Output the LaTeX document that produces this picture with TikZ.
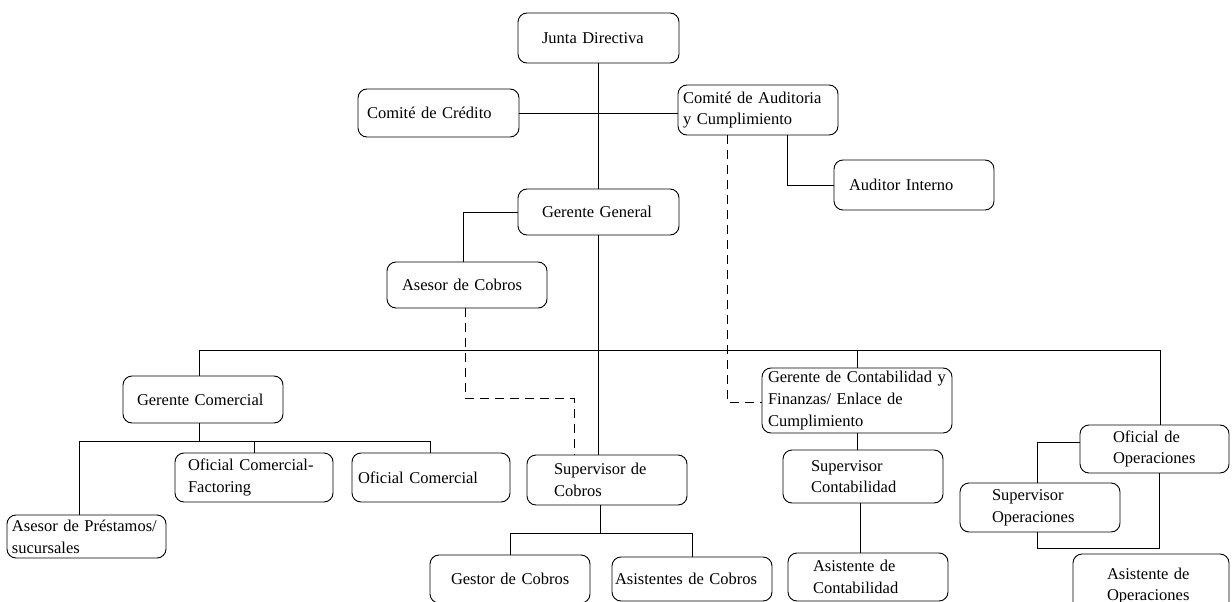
\documentclass[tikz,border=0pt]{standalone}
\usepackage{fontspec}
\setmainfont{Liberation Serif}
\newcommand\boxfont{\fontsize{16.5}{21.7}\selectfont\hyphenpenalty=10000\relax}
\tikzset{
  box/.style={draw=black, line width=0.9pt, rounded corners=9pt, align=left, inner ysep=0pt, font=\boxfont},
  bx/.style n args={4}{minimum width=#1pt, minimum height=#2pt, inner xsep=#3pt, text width=#4pt},
  link/.style={draw=black, line width=0.9pt},
  dlink/.style={draw=black, line width=0.9pt, dash pattern=on 9pt off 6pt}
}
\begin{document}
\begin{tikzpicture}[x=1pt, y=-1pt]
\clip (0,0) rectangle (1232,602);
\fill[white] (0,0) rectangle (1232,602);

% nodes
\node[box, bx={161}{50}{24}{113}] (jd)  at (598.5,38)  {Junta~Directiva};
\node[box, bx={161}{48}{9}{143}]  (cc)  at (438.5,113) {Comité~de~Crédito};
\node[box, bx={160}{50}{5}{150}]  (ca)  at (758,110)   {Comité~de~Auditoria\\y~Cumplimiento};
\node[box, bx={160}{50}{15}{130}] (ai)  at (914,185)   {Auditor~Interno};
\node[box, bx={161}{46}{24}{113}] (gg)  at (598.5,212) {Gerente~General};
\node[box, bx={160}{46}{15}{130}] (ac)  at (467,285)   {Asesor~de~Cobros};
\node[box, bx={160}{47}{14}{132}] (gc)  at (203,399.5) {Gerente~Comercial};
\node[box, bx={190}{65}{6}{178}]  (gcf) at (857,400.5) {Gerente~de~Contabilidad~y\\Finanzas/~Enlace~de\\Cumplimiento};
\node[box, bx={149}{48}{33}{83}]  (oo)  at (1154.5,449) {Oficial~de\\Operaciones};
\node[box, bx={159}{43}{5}{149}]  (aps) at (86.5,536.5) {Asesor~de~Préstamos/\\sucursales};
\node[box, bx={158}{49}{13}{132}] (ocf) at (254,477.5) {Oficial~Comercial-\\Factoring};
\node[box, bx={158}{49}{6}{146}]  (ocm) at (431,477.5) {Oficial~Comercial};
\node[box, bx={160}{50}{27}{106}] (sc)  at (607,480)   {Supervisor~de\\Cobros};
\node[box, bx={160}{53}{28}{104}] (sco) at (863,476.5) {Supervisor\\Contabilidad};
\node[box, bx={160}{49}{32}{96}]  (so)  at (1040,507.5) {Supervisor\\Operaciones};
\node[box, bx={160}{48}{21}{118}] (gco) at (510,579)   {Gestor~de~Cobros};
\node[box, bx={160}{44}{3}{154}]  (asc) at (692,579)   {Asistentes~de~Cobros};
\node[box, bx={160}{48}{25}{110}] (acon) at (868,577)  {Asistente~de\\Contabilidad};
\node[box, bx={156}{64}{34}{88}]  (aop) at (1151,586)  {Asistente~de\\Operaciones};

% helper coordinates
\coordinate (busL) at (199,350);
\coordinate (busR) at (1160,350);
\coordinate (cbL) at (79,441);
\coordinate (cbM) at (199,441);
\coordinate (cbR) at (430,441);
\coordinate (sbL) at (510,533);
\coordinate (sbR) at (692,533);
\coordinate (d1) at (574,398);
\coordinate (lp) at (1159,548);

% solid connectors
\path[link] (jd.south) -- (jd.south |- gg.north);
\path[link] (cc.east) -- (cc.east -| ca.west);
\path[link] ([xshift=29pt]ca.south) |- (ai.west);
\path[link] (gg.west) -| ([xshift=-4pt]ac.north);
\path[link] (gg.south) -- (gg.south |- sc.north);
\path[link] (busL) -- (busR);
\path[link] (busL) -- (busL |- gc.north);
\path[link] (busR) -- (busR |- oo.north);
\path[link] (gcf.north) -- (gcf.north |- busL);
\path[link] (cbM |- gc.south) -- (cbM);
\path[link] (cbL) -- (cbR);
\path[link] (cbL) -- (cbL |- aps.north);
\path[link] (ocf.north |- cbL) -- (ocf.north);
\path[link] (cbR) -- (cbR |- ocm.north);
\path[link] ([xshift=-7pt]sc.south) -- ([xshift=-7pt]sc.south |- sbL);
\path[link] (sbL) -- (sbR);
\path[link] (sbL) -- (gco.north);
\path[link] (sbR) -- (asc.north);
\path[link] (gcf.south) -- (gcf.south |- sco.north);
\path[link] ([xshift=-3pt]sco.south) -- ([xshift=-3pt]sco.south |- acon.north);
\path[link] ([yshift=7pt]oo.west) -| ([xshift=-3pt]so.north);
\path[link] ([xshift=-3pt]so.south) |- (lp) -- (lp |- oo.south);

% dashed connectors
\path[dlink] ([xshift=-31pt]ca.south) |- ([yshift=-2pt]gcf.west);
\path[dlink] ([xshift=-2pt]ac.south) |- (d1) -- (d1 |- sc.north);
\end{tikzpicture}
\end{document}
